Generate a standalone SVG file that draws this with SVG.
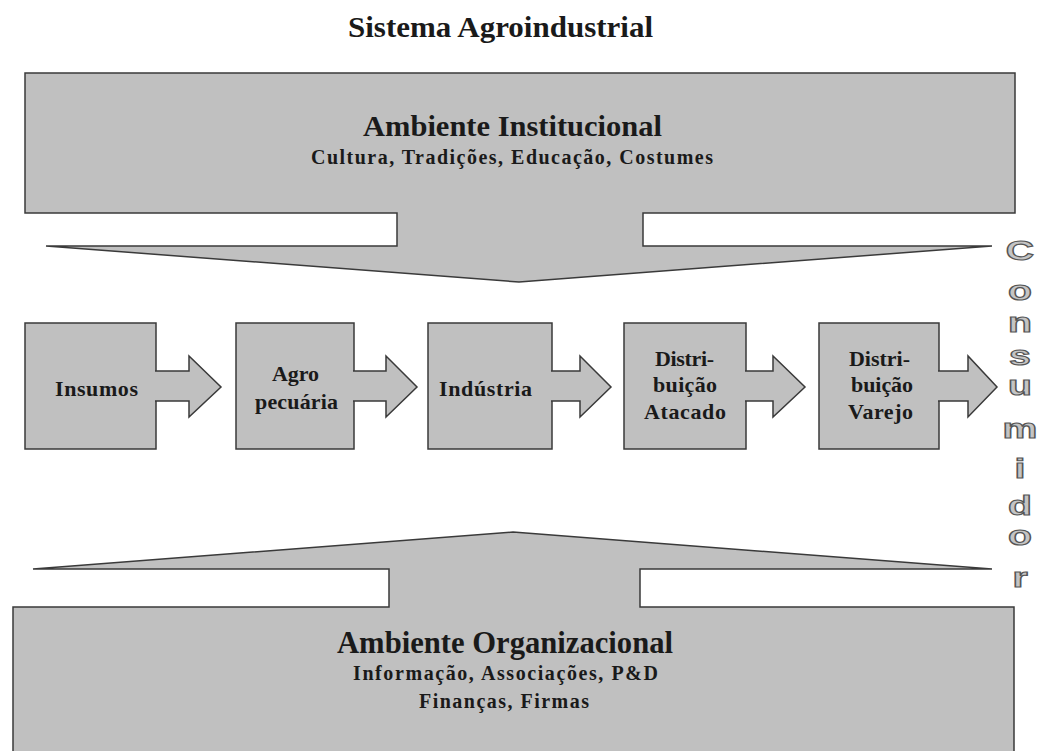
<svg xmlns="http://www.w3.org/2000/svg" width="1037" height="751" viewBox="0 0 1037 751">
<style>
.shape{fill:#c0c0c0;stroke:#3a3a3a;stroke-width:1.5;stroke-linejoin:miter}
.t{font-family:"Liberation Serif","Times New Roman",serif;font-weight:bold;fill:#1a1a1a}
.big{font-size:30px}
.sub{font-size:20px}
.node{font-size:22px}
.cons{font-family:"Liberation Sans",Arial,sans-serif;font-weight:bold;font-size:27px;fill:#c4c4c4;stroke:#555;stroke-width:1.1;text-anchor:middle}
</style>
<rect width="1037" height="751" fill="#ffffff"/>
<text class="t big" x="348" y="37" textLength="305" lengthAdjust="spacingAndGlyphs">Sistema Agroindustrial</text>

<g id="ambiente-institucional">
<path class="shape" d="M25,73 H1015 V213 H643 V246 H992 L519,282 L46,246 H397 V213 H25 Z"/>
<text class="t big" x="363" y="136" textLength="299" lengthAdjust="spacingAndGlyphs">Ambiente Institucional</text>
<text class="t sub" x="311" y="164" textLength="402" lengthAdjust="spacing">Cultura, Tradições, Educação, Costumes</text>
</g>

<g id="ambiente-organizacional">
<path class="shape" d="M13,760 V607 H389 V569 H33 L513,532 L992,569 H640 V607 H1014 V760"/>
<text class="t big" x="337" y="653" textLength="336" lengthAdjust="spacingAndGlyphs" style="font-size:31px">Ambiente Organizacional</text>
<text class="t sub" x="353" y="680" textLength="305" lengthAdjust="spacing">Informação, Associações, P&amp;D</text>
<text class="t sub" x="419" y="708" textLength="170" lengthAdjust="spacing">Finanças, Firmas</text>
</g>

<g id="insumos">
<rect class="shape" x="25" y="323" width="131" height="126"/>
<text class="t node" x="55" y="396" textLength="83" lengthAdjust="spacing">Insumos</text>
</g>
<g id="agropecuaria">
<rect class="shape" x="236" y="323" width="118" height="126"/>
<text class="t node" x="272" y="381" textLength="47" lengthAdjust="spacing">Agro</text>
<text class="t node" x="255" y="409" textLength="83" lengthAdjust="spacing">pecuária</text>
</g>
<g id="industria">
<rect class="shape" x="428" y="323" width="124" height="126"/>
<text class="t node" x="439" y="396" textLength="93" lengthAdjust="spacing">Indústria</text>
</g>
<g id="distribuicao-atacado">
<rect class="shape" x="624" y="323" width="122" height="126"/>
<text class="t node" x="655" y="366" textLength="59" lengthAdjust="spacing">Distri-</text>
<text class="t node" x="653" y="392" textLength="64" lengthAdjust="spacing">buição</text>
<text class="t node" x="644" y="419" textLength="82" lengthAdjust="spacing">Atacado</text>
</g>
<g id="distribuicao-varejo">
<rect class="shape" x="819" y="323" width="120" height="126"/>
<text class="t node" x="849" y="366" textLength="61" lengthAdjust="spacing">Distri-</text>
<text class="t node" x="851" y="392" textLength="62" lengthAdjust="spacing">buição</text>
<text class="t node" x="848" y="419" textLength="65" lengthAdjust="spacing">Varejo</text>
</g>

<g id="connectors">
<path class="shape" d="M155,371 H189 V356 L221,387 L189,417 V401 H155"/>
<path class="shape" d="M353,371 H386 V356 L417,387 L386,417 V401 H353"/>
<path class="shape" d="M551,371 H580 V356 L611,387 L580,417 V401 H551"/>
<path class="shape" d="M745,371 H773 V356 L805,387 L773,417 V401 H745"/>
<path class="shape" d="M938,371 H968 V356 L997,387 L968,417 V401 H938"/>
</g>

<g id="consumidor">
<text class="cons" transform="translate(1020,260) scale(1.45,1)">C</text>
<text class="cons" transform="translate(1020,300) scale(1.45,1)">o</text>
<text class="cons" transform="translate(1020,332) scale(1.45,1)">n</text>
<text class="cons" transform="translate(1020,365) scale(1.45,1)">s</text>
<text class="cons" transform="translate(1020,395) scale(1.45,1)">u</text>
<text class="cons" transform="translate(1020,438) scale(1.45,1)">m</text>
<text class="cons" transform="translate(1020,478) scale(1.45,1)">i</text>
<text class="cons" transform="translate(1020,515) scale(1.45,1)">d</text>
<text class="cons" transform="translate(1020,545) scale(1.45,1)">o</text>
<text class="cons" transform="translate(1020,587) scale(1.45,1)">r</text>
</g>
</svg>
